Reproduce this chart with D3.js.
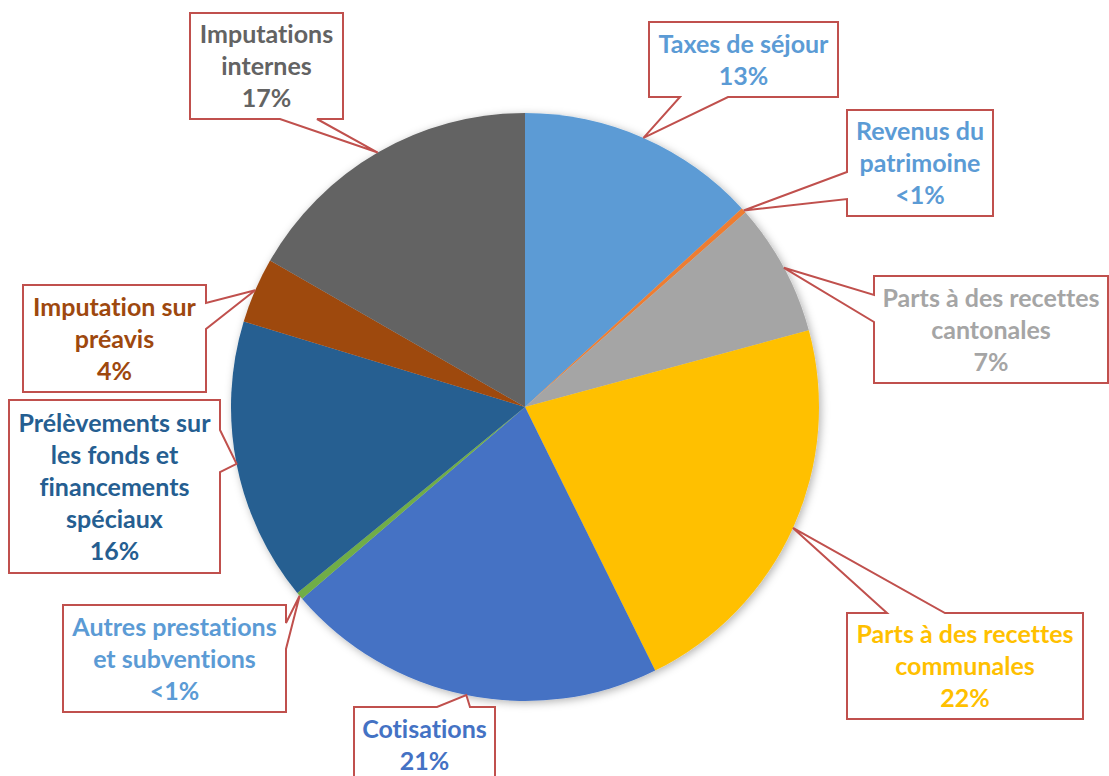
<!DOCTYPE html>
<html>
<head>
<meta charset="utf-8">
<script src="https://cdn.jsdelivr.net/npm/d3@7"></script>
<style>
  body { margin: 0; background: #fff; }
  svg { display: block; }
</style>
</head>
<body>
<div id="chart"></div>
<script>
// data (clockwise from 12 o'clock)
var categories = [
    "Taxes de séjour", "Revenus du patrimoine", "Parts à des recettes cantonales",
    "Parts à des recettes communales", "Cotisations", "Autres prestations et subventions",
    "Prélèvements sur les fonds et financements spéciaux", "Imputation sur préavis", "Imputations internes"
];
var values = [13.2, 0.3, 7.3, 21.9, 21.0, 0.4, 15.6, 3.6, 16.7];
var pctLabels = ["13%", "<1%", "7%", "22%", "21%", "<1%", "16%", "4%", "17%"];
var labelLines = [
    ["Taxes de séjour"],
    ["Revenus du", "patrimoine"],
    ["Parts à des recettes", "cantonales"],
    ["Parts à des recettes", "communales"],
    ["Cotisations"],
    ["Autres prestations", "et subventions"],
    ["Prélèvements sur", "les fonds et", "financements", "spéciaux"],
    ["Imputation sur", "préavis"],
    ["Imputations", "internes"]
];

var sliceColors = ["#5b9bd5", "#ed7d31", "#a5a5a5", "#ffc000", "#4472c4", "#70ad47", "#255e91", "#9e480e", "#636363"];
var textColors  = ["#5b9bd5", "#5b9bd5", "#a5a5a5", "#ffc000", "#4472c4", "#5b9bd5", "#255e91", "#9e480e", "#636363"];

// callout boxes: rect + side where the pointer leaves + pointer base
var boxes = [
    {x: 649, y: 22,  w: 189, h: 75,  side: "bottom", p: [680, 728]},
    {x: 847, y: 110, w: 146, h: 106, side: "left",   p: [172, 199]},
    {x: 874, y: 276, w: 234, h: 107, side: "left",   p: [295, 322]},
    {x: 847, y: 613, w: 236, h: 106, side: "top",    p: [887, 945]},
    {x: 354, y: 707, w: 141, h: 75,  side: "top",    p: [437, 470]},
    {x: 63,  y: 605, w: 223, h: 107, side: "right",  p: [623, 649]},
    {x: 9,   y: 400, w: 211, h: 173, side: "right",  p: [430, 472]},
    {x: 23,  y: 285, w: 183, h: 107, side: "right",  p: [303, 329]},
    {x: 190, y: 13,  w: 153, h: 106, side: "bottom", p: [280, 317]}
];

var width = 1109, height = 776;
var cx = 525, cy = 407, radius = 294;
var lineH = 32;

var svg = d3.select("#chart").append("svg")
    .attr("width", width)
    .attr("height", height);

var defs = svg.append("defs");
var shadow = defs.append("filter").attr("id", "shadow")
    .attr("x", "-10%").attr("y", "-10%").attr("width", "120%").attr("height", "120%");
shadow.append("feDropShadow")
    .attr("dx", 2).attr("dy", 2)
    .attr("stdDeviation", 4)
    .attr("flood-color", "#000")
    .attr("flood-opacity", 0.3);

var pie = d3.pie().sort(null).value(function(d) { return d; });
var arcs = pie(values);

var arc = d3.arc().innerRadius(0).outerRadius(radius);
var edge = d3.arc().innerRadius(radius).outerRadius(radius);

var g = svg.append("g")
    .attr("transform", "translate(" + cx + "," + cy + ")")
    .attr("filter", "url(#shadow)");

g.selectAll("path")
    .data(arcs)
    .enter().append("path")
    .attr("d", arc)
    .attr("fill", function(d, i) { return sliceColors[i]; });

// callouts
function calloutPath(b, tip) {
    var x0 = b.x, y0 = b.y, x1 = b.x + b.w, y1 = b.y + b.h;
    var pts = [[x0, y0]];
    if (b.side === "top") pts.push([b.p[0], y0], tip, [b.p[1], y0]);
    pts.push([x1, y0]);
    if (b.side === "right") pts.push([x1, b.p[0]], tip, [x1, b.p[1]]);
    pts.push([x1, y1]);
    if (b.side === "bottom") pts.push([b.p[1], y1], tip, [b.p[0], y1]);
    pts.push([x0, y1]);
    if (b.side === "left") pts.push([x0, b.p[1]], tip, [x0, b.p[0]]);
    return "M" + pts.map(function(p) { return p[0] + "," + p[1]; }).join("L") + "Z";
}

var labels = svg.append("g");

arcs.forEach(function(d, i) {
    var c = edge.centroid(d);
    var tip = [cx + c[0], cy + c[1]];
    var b = boxes[i];

    labels.append("path")
        .attr("d", calloutPath(b, tip))
        .attr("fill", "#fff")
        .attr("stroke", "#c0504d")
        .attr("stroke-width", 2)
        .attr("stroke-linejoin", "miter");

    var lines = labelLines[i].concat([pctLabels[i]]);
    var mid = b.y + b.h / 2;
    var first = mid - (lines.length - 1) * lineH / 2;

    var t = labels.append("text")
        .attr("text-anchor", "middle")
        .attr("font-family", "Lato, 'Open Sans', sans-serif")
        .attr("font-weight", "bold")
        .attr("font-size", 25)
        .style("font-variant-ligatures", "none")
        .attr("fill", textColors[i]);

    lines.forEach(function(s, k) {
        t.append("tspan")
            .attr("x", b.x + b.w / 2)
            .attr("y", first + k * lineH + 9)
            .text(s);
    });
});
</script>
</body>
</html>
